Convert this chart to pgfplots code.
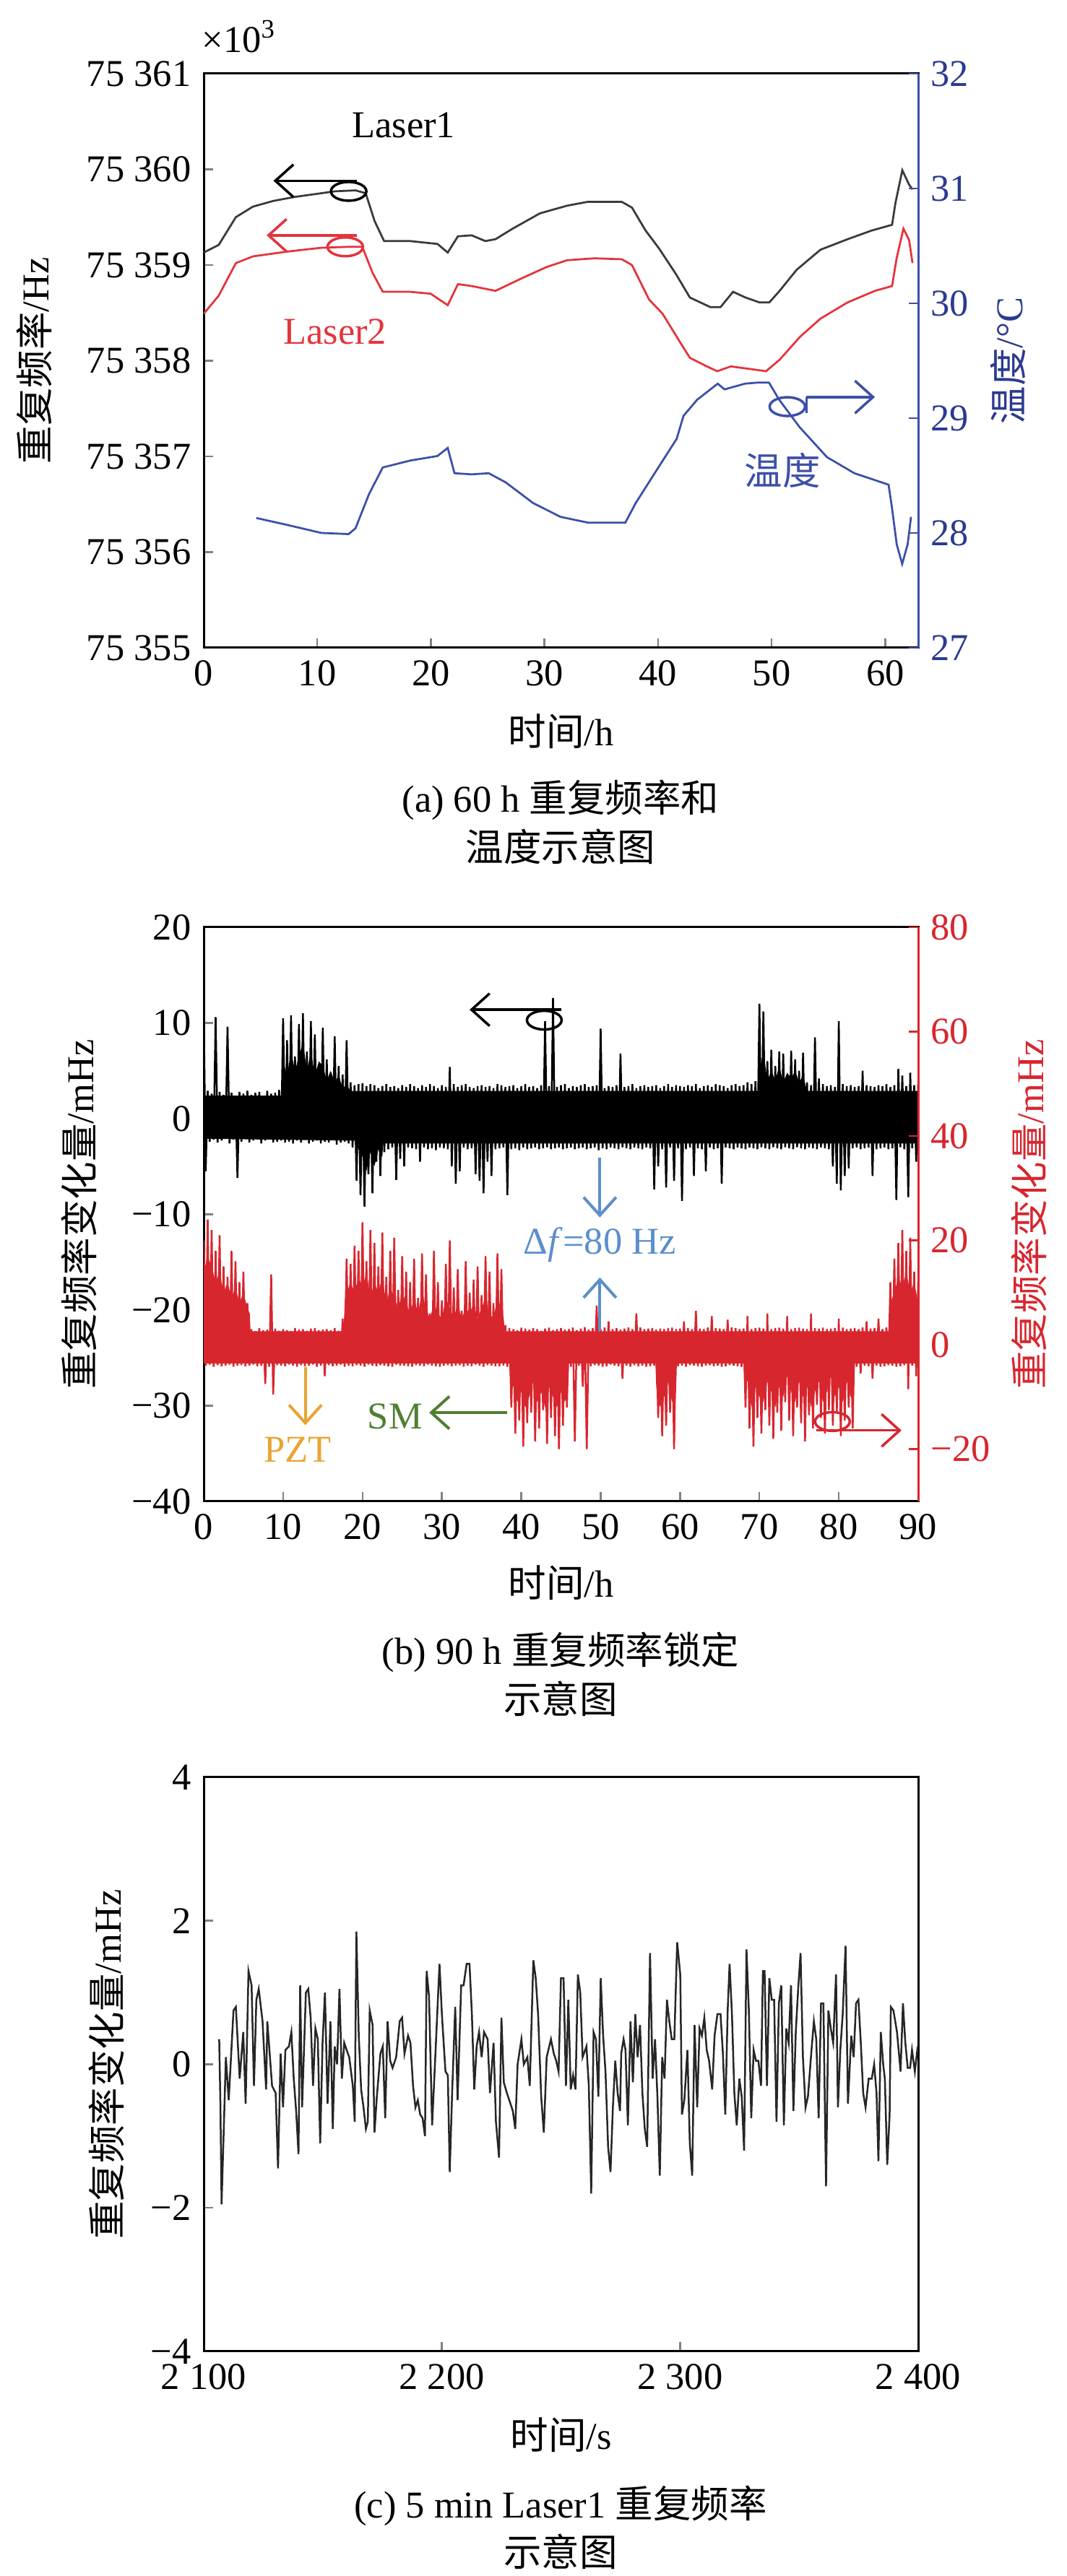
\documentclass[border=0pt]{standalone}
\usepackage{fontspec}
\setmainfont{Liberation Serif}
\newfontfamily\cjk{Noto Sans CJK SC}
\usepackage{pgfplots}
\pgfplotsset{compat=1.18}
\usetikzlibrary{arrows.meta}
\definecolor{tblue}{HTML}{3D4FA8}
\definecolor{tbluetxt}{HTML}{2B3A90}
\definecolor{lred}{HTML}{E3343C}
\definecolor{lgray}{HTML}{3A3A3A}
\definecolor{bred}{HTML}{D8262E}
\definecolor{dfblue}{HTML}{5C8FCB}
\definecolor{pzto}{HTML}{E8A432}
\definecolor{smg}{HTML}{4F7F31}
\newcommand{\fs}{\fontsize{10.5}{12.6}\selectfont}
\pgfplotsset{
  base/.style={
    scale only axis, width=197.8pt, height=159pt, anchor=south west,
    tick align=inside, major tick length=2.6pt,
    axis line style={line width=0.6pt},
    every tick/.append style={line width=0.5pt},
    tick label style={font=\fs},
    label style={font=\fs},
    xlabel style={anchor=center},
    ylabel style={anchor=center},
    scaled ticks=false,
  },
}
\tikzset{barb/.style={-{Straight Barb[length=5pt,width=9pt]}}}
\begin{document}
\begin{tikzpicture}[font=\fs]
\path[use as bounding box] (0,0) rectangle (295.2pt,713.4pt);
% ================= (a) =================
\begin{axis}[base, at={(56.4pt,534pt)},
  xmin=0, xmax=62.9, ymin=75355, ymax=75361,
  xtick={0,10,20,30,40,50,60}, xticklabels={0,10,20,30,40,50,60},
  ytick={75355,75356,75357,75358,75359,75360,75361},
  yticklabels={75 355,75 356,75 357,75 358,75 359,75 360,75 361},
  xtick pos=bottom, ytick pos=left,
  xlabel={{\cjk 时间}/h}, ylabel={{\cjk 重复频率}/Hz},
  xlabel style={at={(axis description cs:0.5,-0.145)}},
  ylabel style={at={(axis description cs:-0.2376,0.5)}},
]
\addplot[lgray, line width=0.55pt] coordinates {
(0,75359.13) (1.32,75359.21) (2.83,75359.50) (4.33,75359.61) (6.14,75359.67) (7.94,75359.71) (9.75,75359.74) (11.55,75359.77) (13.36,75359.78) (14.26,75359.75) (15.04,75359.46) (15.88,75359.25) (18.17,75359.25) (20.58,75359.22) (21.48,75359.13) (22.38,75359.30) (23.59,75359.31) (24.79,75359.25) (25.69,75359.27) (27.2,75359.38) (29.6,75359.54) (32.0,75359.62) (33.8,75359.66) (36.8,75359.66) (37.7,75359.60) (38.9,75359.36) (40.1,75359.17) (41.6,75358.90) (42.8,75358.66) (44.6,75358.56) (45.5,75358.56) (46.6,75358.72) (47.7,75358.66) (48.9,75358.61) (49.8,75358.61) (50.7,75358.73) (52.2,75358.95) (54.3,75359.16) (56.7,75359.27) (58.8,75359.36) (60.6,75359.42) (60.9,75359.65) (61.5,75359.99) (62.1,75359.84) (62.4,75359.79)};
\addplot[lred, line width=0.55pt] coordinates {
(0,75358.49) (1.32,75358.68) (2.83,75359.02) (4.33,75359.09) (7.34,75359.14) (10.35,75359.18) (12.76,75359.19) (13.96,75359.19) (14.86,75358.92) (15.76,75358.72) (18.17,75358.72) (19.98,75358.70) (21.48,75358.58) (22.38,75358.80) (23.59,75358.78) (25.69,75358.73) (27.8,75358.85) (30.2,75358.98) (32.0,75359.05) (34.4,75359.07) (36.8,75359.06) (37.7,75359.00) (39.2,75358.64) (40.4,75358.49) (41.9,75358.20) (42.8,75358.03) (44.3,75357.94) (45.2,75357.89) (46.4,75357.94) (48.3,75357.91) (49.5,75357.89) (50.7,75358.01) (52.5,75358.25) (54.3,75358.44) (56.7,75358.61) (59.1,75358.73) (60.6,75358.78) (61.0,75359.07) (61.6,75359.38) (62.1,75359.26) (62.4,75359.02)};
\node[black] at (axis cs:17.6,75360.46) {Laser1};
\node[lred] at (axis cs:11.55,75358.30) {Laser2};
\node[tblue] at (axis cs:50.96,75356.85) {\cjk 温度};
\draw[black, line width=0.7pt, barb] (axis cs:13.5,75359.88) -- (axis cs:6.14,75359.88);
\draw[black, line width=0.7pt] (axis cs:12.76,75359.77) ellipse [x radius=4.9pt, y radius=2.6pt];
\draw[lred, line width=0.7pt, barb] (axis cs:13.5,75359.31) -- (axis cs:5.54,75359.31);
\draw[lred, line width=0.7pt] (axis cs:12.46,75359.19) ellipse [x radius=4.9pt, y radius=2.6pt];
\draw[tblue, line width=0.7pt] (axis cs:51.38,75357.52) ellipse [x radius=4.9pt, y radius=2.6pt];
\draw[tblue, line width=0.7pt] (axis cs:53.07,75357.45) -- (axis cs:53.07,75357.62);
\draw[tblue, line width=0.7pt, barb] (axis cs:53.07,75357.62) -- (axis cs:59.09,75357.62);
\end{axis}
\begin{axis}[base, at={(56.4pt,534pt)},
  xmin=0, xmax=62.9, ymin=27, ymax=32,
  axis y line*=right, axis x line=none,
  ytick={27,28,29,30,31,32}, yticklabels={27,28,29,30,31,32},
  y axis line style={tblue, line width=0.6pt}, ytick style={tblue},
  yticklabel style={tbluetxt},
  ylabel={{\cjk 温度}/°C},
  ylabel style={tbluetxt, at={(axis description cs:1.1254,0.5)}},
]
\addplot[tblue, line width=0.55pt] coordinates {
(4.63,28.13) (7.34,28.07) (10.35,28.00) (12.76,27.99) (13.36,28.04) (14.56,28.34) (15.76,28.57) (18.17,28.63) (20.58,28.67) (21.48,28.74) (22.08,28.52) (23.59,28.51) (25.09,28.52) (26.59,28.44) (29.0,28.26) (31.41,28.14) (33.81,28.09) (37.12,28.09) (38.03,28.26) (39.83,28.54) (41.64,28.82) (42.24,29.02) (43.44,29.16) (45.25,29.30) (45.85,29.25) (47.65,29.30) (48.86,29.31) (49.76,29.31) (50.66,29.16) (52.47,28.92) (54.87,28.66) (57.28,28.52) (60.29,28.42) (60.59,28.22) (61.01,27.90) (61.49,27.73) (61.97,27.90) (62.27,28.14)};
\end{axis}
\node at (66.2pt,703.2pt) {×10\textsuperscript{3}};
\node at (155.2pt,491.8pt) {(a) 60 h {\cjk 重复频率和}};
\node at (155.2pt,479pt) {\cjk 温度示意图};
% ================= (b) =================
\begin{axis}[base, at={(56.4pt,297.6pt)},
  xmin=0, xmax=90, ymin=-40, ymax=20,
  xtick={0,10,...,90}, xticklabels={0,10,20,30,40,50,60,70,80,90},
  ytick={-40,-30,-20,-10,0,10,20}, yticklabels={−40,−30,−20,−10,0,10,20},
  xtick pos=bottom, ytick pos=left,
  xlabel={{\cjk 时间}/h}, ylabel={{\cjk 重复频率变化量}/mHz},
  xlabel style={at={(axis description cs:0.5,-0.142)}},
  ylabel style={at={(axis description cs:-0.175,0.5)}},
]
% dense core of the black trace
\addplot[fill=black, draw=none] coordinates {
(0,2.4) (9.9,2.4) (10,6) (10.5,4.5) (11,7) (11.5,5) (12,6.5) (12.5,8) (13,5) (13.5,7) (14,4.5) (14.5,6) (15,5.5) (15.5,4) (16,5) (16.5,3.8) (17,4.5) (17.5,3.2) (18,3.5) (18.5,2.9)
(69.9,2.9) (70,5) (70.5,7) (71,4) (71.5,5) (72,4) (72.5,5.5) (73,3.8) (73.5,4.8) (74,4.2) (74.5,5) (75,3.8) (75.5,4.5) (76,2.9) (90,2.9)
(90,-2.6) (22.6,-2.6) (22.5,-4) (22,-3.2) (21.5,-5) (21,-3.5) (20.5,-5.5) (20,-4) (19.5,-3.2) (19,-2.3) (0,-2.1)};
\addplot[black, line width=0.5pt] table[row sep=\\, x=x, y=y] {x y\\
0 11.2\\0.25 -5.5\\0.5 2.9\\0.75 -2.4\\
1 2.6\\1.25 -2.2\\1.5 10.6\\1.75 -2.5\\
2 2.8\\2.25 -2.3\\2.5 2.5\\2.75 -2.1\\
3 9.6\\3.25 -2.6\\3.5 2.7\\3.75 -2.2\\
4 2.4\\4.25 -6.2\\4.5 2.8\\4.75 -2.4\\
5 2.6\\5.25 -2.1\\5.5 2.9\\5.75 -2.5\\
6 2.5\\6.25 -2.3\\6.5 2.7\\6.75 -2.2\\
7 2.8\\7.25 -2.6\\7.5 2.4\\7.75 -2.3\\
8 2.9\\8.25 -2.2\\8.5 2.6\\8.75 -2.5\\
9 2.7\\9.25 -2.4\\9.5 3.0\\9.75 -2.3\\
10 10.5\\10.25 -2.5\\10.5 8.2\\10.75 -2.4\\
11 10.8\\11.25 -2.6\\11.5 6.5\\11.75 -2.3\\
12 9.9\\12.25 -2.5\\12.5 11.0\\12.75 -2.2\\
13 7.0\\13.25 -2.6\\13.5 10.2\\13.75 -2.4\\
14 8.8\\14.25 -2.3\\14.5 5.6\\14.75 -2.6\\
15 9.5\\15.25 -2.4\\15.5 6.2\\15.75 -2.5\\
16 4.8\\16.25 -2.2\\16.5 8.6\\16.75 -2.7\\
17 5.5\\17.25 -2.5\\17.5 4.6\\17.75 -2.4\\
18 8.2\\18.25 -2.6\\18.5 3.8\\18.75 -3.0\\
19 3.5\\19.25 -6.5\\19.5 3.6\\19.75 -8.0\\
20 3.7\\20.25 -9.2\\20.5 3.4\\20.75 -5.8\\
21 3.6\\21.25 -7.8\\21.5 3.5\\21.75 -4.5\\
22 3.2\\22.25 -6.0\\22.5 3.4\\22.75 -3.5\\
23 3.6\\23.25 -3.2\\23.5 3.3\\23.75 -3.0\\
24 3.4\\24.25 -6.4\\24.5 3.2\\24.75 -4.2\\
25 3.5\\25.25 -5.0\\25.5 3.3\\25.75 -3.0\\
26 3.6\\26.25 -3.1\\26.5 3.4\\26.75 -3.2\\
27 3.2\\27.25 -4.5\\27.5 3.5\\27.75 -3.0\\
28 3.3\\28.25 -3.2\\28.5 3.6\\28.75 -3.1\\
29 3.4\\29.25 -3.3\\29.5 3.2\\29.75 -3.0\\
30 3.5\\30.25 -3.1\\30.5 3.3\\30.75 -3.2\\
31 5.4\\31.25 -5.0\\31.5 3.6\\31.75 -6.8\\
32 3.3\\32.25 -5.5\\32.5 3.5\\32.75 -3.0\\
33 3.6\\33.25 -3.2\\33.5 3.3\\33.75 -3.1\\
34 3.2\\34.25 -5.8\\34.5 3.4\\34.75 -6.5\\
35 3.5\\35.25 -7.8\\35.5 3.3\\35.75 -4.5\\
36 3.4\\36.25 -6.0\\36.5 3.2\\36.75 -3.2\\
37 3.6\\37.25 -3.1\\37.5 3.5\\37.75 -3.0\\
38 3.3\\38.25 -8.0\\38.5 3.4\\38.75 -3.2\\
39 3.5\\39.25 -3.1\\39.5 3.2\\39.75 -3.3\\
40 3.4\\40.25 -3.0\\40.5 3.6\\40.75 -3.2\\
41 3.3\\41.25 -3.1\\41.5 3.4\\41.75 -3.0\\
42 3.2\\42.25 -3.2\\42.5 3.5\\42.75 -3.1\\
43 10.2\\43.25 -3.0\\43.5 3.4\\43.75 -3.2\\
44 12.6\\44.25 -3.1\\44.5 3.3\\44.75 -3.0\\
45 3.5\\45.25 -3.2\\45.5 3.6\\45.75 -3.1\\
46 3.2\\46.25 -3.0\\46.5 3.4\\46.75 -3.2\\
47 3.3\\47.25 -3.1\\47.5 3.5\\47.75 -3.0\\
48 3.6\\48.25 -3.2\\48.5 3.3\\48.75 -3.1\\
49 3.4\\49.25 -3.0\\49.5 3.5\\49.75 -3.3\\
50 9.4\\50.25 -3.1\\50.5 3.2\\50.75 -3.2\\
51 3.4\\51.25 -3.0\\51.5 3.3\\51.75 -3.1\\
52 3.5\\52.25 -3.2\\52.5 6.8\\52.75 -3.0\\
53 3.3\\53.25 -3.1\\53.5 3.4\\53.75 -3.2\\
54 3.6\\54.25 -3.0\\54.5 3.2\\54.75 -3.1\\
55 3.4\\55.25 -3.2\\55.5 3.5\\55.75 -3.0\\
56 3.3\\56.25 -3.1\\56.5 3.4\\56.75 -7.4\\
57 3.5\\57.25 -5.0\\57.5 3.2\\57.75 -3.2\\
58 3.4\\58.25 -7.2\\58.5 3.6\\58.75 -3.0\\
59 3.3\\59.25 -6.5\\59.5 3.5\\59.75 -3.1\\
60 3.4\\60.25 -8.6\\60.5 3.3\\60.75 -3.2\\
61 3.5\\61.25 -3.0\\61.5 3.4\\61.75 -6.0\\
62 3.6\\62.25 -3.1\\62.5 3.2\\62.75 -3.2\\
63 3.4\\63.25 -5.5\\63.5 3.5\\63.75 -3.0\\
64 3.3\\64.25 -3.2\\64.5 3.6\\64.75 -3.1\\
65 3.5\\65.25 -6.8\\65.5 3.4\\65.75 -3.0\\
66 3.2\\66.25 -3.1\\66.5 3.5\\66.75 -3.2\\
67 3.6\\67.25 -3.0\\67.5 3.4\\67.75 -3.1\\
68 3.5\\68.25 -3.2\\68.5 3.8\\68.75 -3.0\\
69 3.6\\69.25 -3.1\\69.5 3.9\\69.75 -3.2\\
70 12.0\\70.25 -3.0\\70.5 11.2\\70.75 -3.1\\
71 6.0\\71.25 -3.2\\71.5 7.2\\71.75 -3.0\\
72 5.5\\72.25 -3.1\\72.5 7.0\\72.75 -3.2\\
73 6.8\\73.25 -3.0\\73.5 4.5\\73.75 -3.1\\
74 7.1\\74.25 -3.2\\74.5 6.2\\74.75 -3.0\\
75 5.0\\75.25 -3.1\\75.5 6.9\\75.75 -3.2\\
76 3.8\\76.25 -3.0\\76.5 3.5\\76.75 -3.1\\
77 8.5\\77.25 -3.2\\77.5 4.2\\77.75 -3.0\\
78 3.6\\78.25 -3.1\\78.5 3.4\\78.75 -3.2\\
79 3.5\\79.25 -5.0\\79.5 3.3\\79.75 -6.8\\
80 10.2\\80.25 -7.5\\80.5 3.6\\80.75 -6.0\\
81 3.4\\81.25 -5.2\\81.5 3.5\\81.75 -3.1\\
82 3.3\\82.25 -3.0\\82.5 3.4\\82.75 -3.2\\
83 5.0\\83.25 -3.1\\83.5 3.5\\83.75 -3.0\\
84 3.4\\84.25 -6.0\\84.5 3.3\\84.75 -3.2\\
85 3.5\\85.25 -3.1\\85.5 3.4\\85.75 -3.0\\
86 3.6\\86.25 -3.2\\86.5 3.3\\86.75 -3.1\\
87 3.5\\87.25 -8.5\\87.5 5.2\\87.75 -3.0\\
88 4.5\\88.25 -3.2\\88.5 3.4\\88.75 -8.2\\
89 4.8\\89.25 -3.1\\89.5 3.5\\89.75 -4.5\\
90 3.6\\
};
\end{axis}
\begin{axis}[base, at={(56.4pt,297.6pt)},
  xmin=0, xmax=90, ymin=-30, ymax=80,
  axis y line*=right, axis x line=none,
  ytick={-20,0,20,40,60,80}, yticklabels={−20,0,20,40,60,80},
  y axis line style={bred, line width=0.6pt}, ytick style={bred},
  yticklabel style={bred},
  ylabel={{\cjk 重复频率变化量}/mHz},
  ylabel style={bred, at={(axis description cs:1.155,0.5)}},
]
% dense core of the red trace
\addplot[fill=bred, draw=none] coordinates {
(0,14) (0.5,17) (1,15) (1.5,12) (2,14) (2.5,10) (3,12) (3.5,9) (4,11) (4.5,8) (5,10) (5.5,7) (5.8,6) (5.9,2.6)
(17.6,2.6) (17.8,9) (18.5,12) (19,10) (19.5,13) (20,11) (20.5,14) (21,9) (21.5,12) (22,10) (22.5,13) (23,8) (23.5,11) (24,9) (24.5,7) (25,10) (25.5,8) (26,6) (26.5,9) (27,6) (27.5,10) (28,7) (28.5,5) (29,8) (29.5,6) (30,5) (30.5,9) (31,7) (31.5,5) (32,8) (32.5,5) (33,7) (33.5,6) (34,8) (34.5,5) (35,7) (35.5,9) (36,6) (36.5,5) (37,9) (37.5,7) (37.8,5) (37.9,2.6)
(86.3,2.6) (86.5,8) (87,10) (87.5,13) (88,11) (88.5,14) (89,10) (89.5,12) (90,8)
(90,-3.6) (82,-3.6) (81.9,-8) (81.5,-10) (81,-7) (80.5,-11) (80,-8) (79.5,-10) (79,-6) (78.5,-9) (78,-11) (77.5,-7) (77,-9) (76.5,-12) (76,-8) (75.5,-10) (75,-7) (74.5,-11) (74,-9) (73.5,-6) (73,-10) (72.5,-8) (72,-12) (71.5,-9) (71,-7) (70.5,-11) (70,-10) (69.5,-8) (69,-12) (68.5,-7) (68.1,-6) (68,-3.6)
(59.6,-3.6) (59.5,-9) (59,-11) (58.5,-7) (58,-10) (57.5,-12) (57,-8) (56.9,-3.6)
(46,-3.6) (45.9,-8) (45.5,-11) (45,-9) (44.5,-12) (44,-10) (43.5,-8) (43,-12) (42.5,-9) (42,-11) (41.5,-7) (41,-10) (40.5,-12) (40,-9) (39.5,-11) (39,-8) (38.6,-6) (38.5,-3.6) (0,-3.6)};
\addplot[bred, line width=0.5pt] table[row sep=\\, x=x, y=y] {x y\\
0 20\\0.25 -4\\0.5 24\\0.75 -3.8\\
1 22\\1.25 -4.2\\1.5 18\\1.75 -3.9\\
2 21\\2.25 -4.1\\2.5 15\\2.75 -4.0\\
3 13\\3.25 -3.8\\3.5 18\\3.75 -4.2\\
4 16\\4.25 -4.0\\4.5 12\\4.75 -3.9\\
5 14\\5.25 -4.1\\5.5 8\\5.75 -4.0\\
6 3.0\\6.25 -3.8\\6.5 2.6\\6.75 -4.1\\
7 3.2\\7.25 -4.0\\7.5 2.8\\7.75 -7.5\\
8 2.9\\8.25 -4.2\\8.5 13.5\\8.75 -9.5\\
9 3.1\\9.25 -3.9\\9.5 2.7\\9.75 -4.0\\
10 3.0\\10.25 -4.1\\10.5 2.8\\10.75 -3.8\\
11 2.6\\11.25 -4.0\\11.5 3.2\\11.75 -4.2\\
12 2.9\\12.25 -3.9\\12.5 3.0\\12.75 -4.1\\
13 2.7\\13.25 -4.0\\13.5 3.1\\13.75 -3.8\\
14 3.2\\14.25 -4.2\\14.5 2.8\\14.75 -4.0\\
15 2.9\\15.25 -6.0\\15.5 3.0\\15.75 -3.9\\
16 2.8\\16.25 -4.1\\16.5 3.2\\16.75 -4.0\\
17 2.7\\17.25 -3.8\\17.5 5.0\\17.75 -4.2\\
18 16.5\\18.25 -4.0\\18.5 15.5\\18.75 -4.1\\
19 19.0\\19.25 -3.9\\19.5 18.0\\19.75 -4.0\\
20 23.5\\20.25 -4.2\\20.5 16.0\\20.75 -3.8\\
21 22.0\\21.25 -4.0\\21.5 19.5\\21.75 -4.1\\
22 15.0\\22.25 -3.9\\22.5 21.5\\22.75 -4.0\\
23 13.0\\23.25 -4.1\\23.5 18.0\\23.75 -4.2\\
24 20.5\\24.25 -3.8\\24.5 10.5\\24.75 -4.0\\
25 17.0\\25.25 -4.0\\25.5 14.0\\25.75 -4.1\\
26 12.0\\26.25 -4.2\\26.5 16.5\\26.75 -3.9\\
27 9.0\\27.25 -4.0\\27.5 17.5\\27.75 -4.1\\
28 13.5\\28.25 -3.8\\28.5 6.0\\28.75 -4.0\\
29 18.0\\29.25 -4.1\\29.5 12.0\\29.75 -4.2\\
30 8.5\\30.25 -4.0\\30.5 15.5\\30.75 -3.9\\
31 20.0\\31.25 -4.1\\31.5 11.0\\31.75 -4.0\\
32 14.5\\32.25 -3.9\\32.5 6.5\\32.75 -4.2\\
33 16.0\\33.25 -4.0\\33.5 10.0\\33.75 -4.1\\
34 12.5\\34.25 -3.8\\34.5 15.0\\34.75 -4.0\\
35 9.5\\35.25 -4.2\\35.5 17.0\\35.75 -3.9\\
36 14.0\\36.25 -4.0\\36.5 8.0\\36.75 -4.1\\
37 17.5\\37.25 -4.1\\37.5 14.5\\37.75 -4.0\\
38 3.8\\38.25 -4.2\\38.5 3.2\\38.75 -12.0\\
39 3.0\\39.25 -17.0\\39.5 2.8\\39.75 -14.5\\
40 3.3\\40.25 -19.5\\40.5 3.1\\40.75 -15.0\\
41 2.9\\41.25 -13.0\\41.5 3.2\\41.75 -18.5\\
42 3.0\\42.25 -16.0\\42.5 2.7\\42.75 -12.5\\
43 3.1\\43.25 -19.0\\43.5 3.3\\43.75 -14.0\\
44 2.8\\44.25 -17.5\\44.5 3.0\\44.75 -20.0\\
45 3.2\\45.25 -15.5\\45.5 2.9\\45.75 -12.0\\
46 3.0\\46.25 -4.2\\46.5 3.3\\46.75 -18.5\\
47 2.8\\47.25 -4.0\\47.5 3.1\\47.75 -8.0\\
48 3.4\\48.25 -20.0\\48.5 2.9\\48.75 -4.1\\
49 3.2\\49.25 -3.9\\49.5 7.5\\49.75 -4.0\\
50 3.0\\50.25 -4.2\\50.5 3.3\\50.75 -4.1\\
51 4.5\\51.25 -3.8\\51.5 3.0\\51.75 -4.0\\
52 3.2\\52.25 -4.1\\52.5 2.9\\52.75 -6.5\\
53 3.1\\53.25 -4.0\\53.5 3.3\\53.75 -4.2\\
54 3.0\\54.25 -3.9\\54.5 6.0\\54.75 -4.1\\
55 3.3\\55.25 -4.0\\55.5 3.0\\55.75 -4.2\\
56 3.1\\56.25 -4.1\\56.5 3.2\\56.75 -4.0\\
57 2.9\\57.25 -14.0\\57.5 3.1\\57.75 -17.5\\
58 3.0\\58.25 -15.5\\58.5 3.2\\58.75 -13.0\\
59 3.3\\59.25 -20.0\\59.5 3.0\\59.75 -4.1\\
60 3.1\\60.25 -4.0\\60.5 4.5\\60.75 -4.2\\
61 3.2\\61.25 -3.9\\61.5 3.0\\61.75 -4.0\\
62 6.5\\62.25 -4.1\\62.5 3.1\\62.75 -4.2\\
63 3.0\\63.25 -4.0\\63.5 3.3\\63.75 -3.9\\
64 5.5\\64.25 -4.1\\64.5 3.2\\64.75 -4.0\\
65 3.1\\65.25 -4.2\\65.5 3.0\\65.75 -4.1\\
66 4.8\\66.25 -3.9\\66.5 3.3\\66.75 -4.0\\
67 3.2\\67.25 -4.1\\67.5 3.0\\67.75 -4.2\\
68 3.1\\68.25 -12.0\\68.5 5.5\\68.75 -16.0\\
69 3.0\\69.25 -19.5\\69.5 3.2\\69.75 -14.0\\
70 3.3\\70.25 -17.0\\70.5 3.1\\70.75 -12.5\\
71 6.0\\71.25 -15.5\\71.5 3.0\\71.75 -18.0\\
72 3.2\\72.25 -13.0\\72.5 3.3\\72.75 -16.5\\
73 3.1\\73.25 -11.0\\73.5 5.5\\73.75 -14.5\\
74 3.0\\74.25 -17.5\\74.5 3.2\\74.75 -12.0\\
75 3.3\\75.25 -15.0\\75.5 3.1\\75.75 -18.5\\
76 3.0\\76.25 -13.5\\76.5 6.0\\76.75 -16.0\\
77 3.2\\77.25 -11.5\\77.5 3.1\\77.75 -14.0\\
78 3.3\\78.25 -17.0\\78.5 3.0\\78.75 -12.5\\
79 3.1\\79.25 -15.5\\79.5 3.2\\79.75 -13.0\\
80 5.0\\80.25 -17.5\\80.5 3.3\\80.75 -14.5\\
81 3.0\\81.25 -12.0\\81.5 3.1\\81.75 -16.0\\
82 3.2\\82.25 -4.2\\82.5 3.0\\82.75 -5.5\\
83 3.3\\83.25 -4.0\\83.5 4.5\\83.75 -4.1\\
84 3.1\\84.25 -6.5\\84.5 3.2\\84.75 -4.0\\
85 5.0\\85.25 -4.2\\85.5 3.0\\85.75 -4.1\\
86 3.3\\86.25 -3.9\\86.5 12.0\\86.75 -4.0\\
87 16.5\\87.25 -4.2\\87.5 19.5\\87.75 -4.1\\
88 22.0\\88.25 -3.9\\88.5 18.0\\88.75 -8.5\\
89 20.5\\89.25 -4.0\\89.5 14.0\\89.75 -6.0\\
90 12.0\\
};
\draw[black, line width=0.7pt, barb] (axis cs:45.0,64.2) -- (axis cs:33.5,64.2);
\draw[black, line width=0.7pt] (axis cs:42.9,62.2) ellipse [x radius=4.8pt, y radius=2.6pt];
\draw[dfblue, line width=0.8pt, barb] (axis cs:49.9,35.9) -- (axis cs:49.9,24.4);
\draw[dfblue, line width=0.8pt, barb] (axis cs:49.9,2.6) -- (axis cs:49.9,12.9);
\node[dfblue] at (axis cs:49.9,19.1) {Δ\textit{f}=80 Hz};
\draw[pzto, line width=0.8pt, barb] (axis cs:12.8,-4.3) -- (axis cs:12.8,-15.4);
\node[pzto] at (axis cs:11.8,-20.1) {PZT};
\node[smg] at (axis cs:24.1,-13.7) {SM};
\draw[smg, line width=0.8pt, barb] (axis cs:38.2,-13.0) -- (axis cs:28.4,-13.0);
\draw[bred, line width=0.7pt] (axis cs:79.2,-14.7) ellipse [x radius=4.8pt, y radius=2.6pt];
\draw[bred, line width=0.7pt, barb] (axis cs:77.2,-16.4) -- (axis cs:87.9,-16.4);
\end{axis}
\node at (155.2pt,255.8pt) {(b) 90 h {\cjk 重复频率锁定}};
\node at (155.2pt,243pt) {\cjk 示意图};
% ================= (c) =================
\begin{axis}[base, at={(56.4pt,62.2pt)},
  xmin=2100, xmax=2400, ymin=-4, ymax=4,
  xtick={2100,2200,2300,2400}, xticklabels={2 100,2 200,2 300,2 400},
  ytick={-4,-2,0,2,4}, yticklabels={−4,−2,0,2,4},
  xtick pos=bottom, ytick pos=left,
  xlabel={{\cjk 时间}/s}, ylabel={{\cjk 重复频率变化量}/mHz},
  xlabel style={at={(axis description cs:0.5,-0.146)}},
  ylabel style={at={(axis description cs:-0.1365,0.5)}},
]
\addplot[black!85, line width=0.5pt] coordinates {
(2106.5,0.35) (2107.0,-0.55) (2107.5,-1.95) (2109.3,0.1) (2110.5,-0.5) (2112.5,0.75) (2113.5,0.8) (2115.1,-0.2) (2116.6,0.45) (2117.6,-0.55) (2118.8,1.3) (2120.1,1.1) (2121.1,-0.3) (2122.1,0.9) (2123.1,1.05) (2124.7,0.6) (2126.2,-0.35) (2126.7,0.6) (2128.7,-0.3) (2130.2,-0.4) (2131.2,-1.45) (2132.3,0.15) (2133.3,-0.6) (2134.3,0.2) (2135.8,0.25) (2136.8,0.45) (2137.8,-0.2) (2138.8,-0.65) (2139.8,-1.25) (2140.5,1.1) (2141.3,-0.6) (2142.9,1.0) (2143.9,1.05) (2144.9,0.65) (2145.9,-0.3) (2146.9,0.5) (2147.9,0.35) (2148.9,-1.1) (2149.9,0.3) (2150.9,1.0) (2152.0,-0.55) (2153.2,0.6) (2154.2,-0.9) (2155.0,0.25) (2156.0,0.0) (2157.0,1.05) (2158.0,-0.2) (2159.0,0.3) (2160.0,0.2) (2161.1,0.1) (2162.6,-0.3) (2163.4,-0.8) (2164.1,1.85) (2165.1,0.4) (2166.1,-0.35) (2167.1,-0.6) (2168.1,-0.9) (2168.9,-0.8) (2169.7,0.75) (2170.9,0.55) (2171.7,-0.95) (2172.7,-0.45) (2174.2,0.15) (2175.2,0.25) (2176.2,-0.75) (2177.2,0.6) (2178.3,0.05) (2179.3,-0.05) (2180.8,0.1) (2182.3,0.6) (2183.3,0.65) (2184.3,0.15) (2185.8,0.4) (2186.8,0.3) (2187.9,-0.3) (2188.9,-0.6) (2189.9,-0.5) (2190.9,-0.7) (2191.9,-0.75) (2192.9,-1.0) (2193.6,1.3) (2194.6,0.95) (2195.9,-0.85) (2197.5,0.3) (2199.0,1.4) (2200.0,0.7) (2201.5,-0.1) (2202.5,-0.15) (2203.3,-1.5) (2204.3,-0.4) (2205.6,0.8) (2206.6,-0.5) (2208.1,1.1) (2209.1,1.1) (2210.4,1.4) (2211.6,1.4) (2212.6,0.7) (2213.6,-0.35) (2214.6,0.25) (2215.6,0.45) (2216.7,0.1) (2217.7,0.45) (2219.2,0.35) (2220.2,-0.4) (2221.7,0.3) (2222.7,-0.8) (2224.0,-1.3) (2225.0,0.65) (2226.0,-0.25) (2227.3,-0.4) (2228.3,-0.5) (2229.8,-0.65) (2230.8,-0.9) (2231.8,0.0) (2233.4,0.35) (2234.4,0.0) (2235.9,0.1) (2236.9,-0.3) (2238.4,1.45) (2239.4,1.2) (2240.4,0.7) (2241.7,-0.45) (2242.8,-0.95) (2244.0,0.1) (2245.8,0.35) (2247.0,0.15) (2248.0,0.05) (2249.0,-0.1) (2250.0,1.2) (2251.1,1.2) (2252.1,-0.3) (2253.1,0.9) (2254.1,-0.35) (2255.1,-0.15) (2256.1,-0.35) (2257.1,1.25) (2258.1,1.0) (2259.1,0.1) (2260.7,0.25) (2261.7,-0.3) (2262.7,-1.8) (2263.7,0.45) (2264.7,0.35) (2265.7,-0.45) (2266.7,1.2) (2267.7,0.4) (2268.7,-0.1) (2269.8,-1.15) (2270.8,-1.5) (2271.8,-0.6) (2272.8,0.05) (2273.8,-0.4) (2274.8,-0.65) (2275.3,0.15) (2276.3,0.35) (2277.1,0.2) (2278.1,-0.85) (2279.2,0.6) (2280.2,-0.25) (2281.2,0.7) (2282.2,0.1) (2283.2,0.55) (2284.2,-0.4) (2285.2,-0.9) (2286.2,-1.15) (2287.4,1.55) (2288.5,-0.2) (2289.5,0.35) (2290.5,-0.45) (2291.5,-1.55) (2292.5,0.1) (2293.5,-0.2) (2294.5,0.9) (2295.5,0.6) (2296.5,0.35) (2297.6,0.35) (2298.8,1.7) (2300.1,1.25) (2300.8,-0.7) (2301.8,-0.5) (2303.1,0.2) (2304.1,-1.1) (2305.1,-1.55) (2306.1,0.55) (2307.2,-0.6) (2308.2,0.5) (2309.2,0.4) (2310.2,0.65) (2311.2,0.2) (2312.2,0.05) (2313.5,-0.35) (2314.5,0.4) (2315.7,0.7) (2317.0,0.7) (2318.0,0.15) (2319.0,-0.7) (2320.0,0.75) (2320.8,1.4) (2321.8,0.7) (2322.8,-0.4) (2323.8,-0.85) (2324.9,-0.2) (2325.9,-0.45) (2326.9,-1.2) (2327.9,1.6) (2328.9,0.75) (2329.9,-0.75) (2330.9,0.2) (2331.9,0.05) (2332.9,0.05) (2334.0,-0.3) (2334.8,1.3) (2335.5,1.3) (2336.5,-0.3) (2337.5,1.2) (2338.5,0.9) (2339.5,0.9) (2340.5,-0.8) (2341.5,0.85) (2342.5,1.1) (2343.6,-0.85) (2344.6,0.5) (2345.6,0.3) (2346.6,1.1) (2347.6,-0.65) (2348.6,0.45) (2349.6,1.05) (2350.6,1.55) (2351.6,0.1) (2352.7,-0.6) (2353.7,-0.45) (2355.2,0.2) (2356.2,0.6) (2357.2,0.35) (2358.2,-0.75) (2359.2,0.85) (2360.2,0.85) (2361.3,-1.7) (2362.3,0.75) (2363.3,0.5) (2364.3,0.3) (2365.5,1.25) (2366.3,-0.6) (2367.3,0.2) (2368.3,0.7) (2369.5,1.65) (2370.5,-0.55) (2371.9,0.4) (2372.9,0.1) (2373.9,0.85) (2374.9,0.9) (2375.9,0.3) (2376.9,-0.4) (2377.9,-0.6) (2379.2,-0.2) (2380.5,-0.2) (2381.5,0.0) (2382.5,-0.4) (2383.3,-1.35) (2384.3,0.45) (2385.3,0.0) (2386.0,-0.2) (2387.0,-1.4) (2388.0,-0.7) (2388.5,0.8) (2389.6,0.75) (2391.1,0.45) (2392.6,-0.1) (2393.6,0.85) (2394.6,0.3) (2395.6,-0.05) (2396.6,-0.05) (2397.4,0.2) (2398.6,-0.1) (2399.8,0.25)};
\end{axis}
\node at (155.2pt,19.4pt) {(c) 5 min Laser1 {\cjk 重复频率}};
\node at (155.2pt,6.8pt) {\cjk 示意图};
\end{tikzpicture}
\end{document}
